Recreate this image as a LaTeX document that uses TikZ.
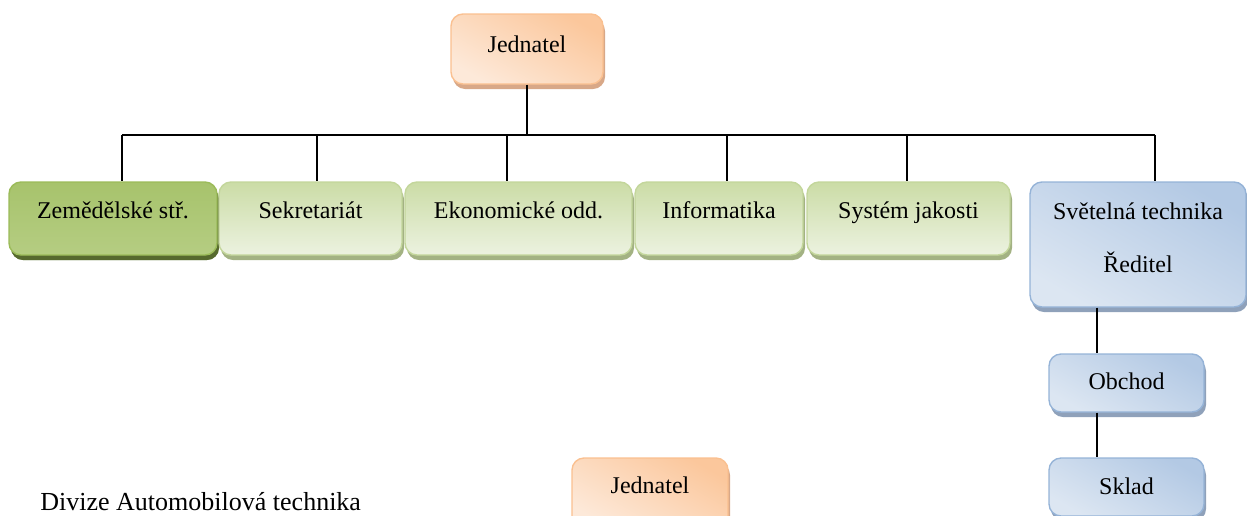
\documentclass[tikz,border=0pt]{standalone}
\usepackage{fontspec}
\setmainfont{Liberation Serif}
\usepackage{tikz}
\usetikzlibrary{shadows}
\definecolor{grntop}{HTML}{CBDCA6}
\definecolor{grnbot}{HTML}{ECF2E0}
\definecolor{grnline}{HTML}{C3D69B}
\definecolor{grnshadow}{HTML}{A3B283}
\definecolor{darktop}{HTML}{A7C36C}
\definecolor{darkmid}{HTML}{91B151}
\definecolor{darkbot}{HTML}{B5CD82}
\definecolor{darkline}{HTML}{9BBB59}
\definecolor{darkshadow}{HTML}{56692E}
\definecolor{blutop}{HTML}{B3C9E4}
\definecolor{blubot}{HTML}{DCE6F2}
\definecolor{bluline}{HTML}{95B3D7}
\definecolor{blushadow}{HTML}{8FA1BA}
\definecolor{orgtop}{HTML}{FBC79C}
\definecolor{orgbot}{HTML}{FDE9D9}
\definecolor{orgline}{HTML}{FAC090}
\definecolor{orgshadow}{HTML}{D8A888}

\begin{document}
\begin{tikzpicture}[x=0.5pt,y=-0.5pt,
  box/.style={rounded corners=6pt, draw, line width=0.7pt, inner sep=0pt,
    font=\fontsize{12}{14}\selectfont},
  green box/.style={box, draw=grnline, top color=grntop, bottom color=grnbot,
    drop shadow={shadow xshift=1pt, shadow yshift=-2.5pt, fill=grnshadow, opacity=1},
    minimum height=36.5pt, text height=18pt, text depth=18.5pt},
  dark box/.style={green box, draw=darkline, top color=darktop, middle color=darkmid, bottom color=darkbot,
    drop shadow={shadow xshift=1pt, shadow yshift=-2.5pt, fill=darkshadow, opacity=1}},
  blue box/.style={box, draw=bluline, top color=blutop, bottom color=blubot, shading angle=-30,
    drop shadow={shadow xshift=1pt, shadow yshift=-2.5pt, fill=blushadow, opacity=1}},
  orange box/.style={box, draw=orgline, top color=orgtop, bottom color=orgbot, shading angle=-30,
    drop shadow={shadow xshift=1pt, shadow yshift=-2.5pt, fill=orgshadow, opacity=1}},
  line/.style={line width=1pt}]
\useasboundingbox (0,0) rectangle (1247,515);
\clip (0,0) rectangle (1247,515);

% Points
\node[orange box, minimum width=76pt, minimum height=35pt, text height=19pt, text depth=16pt] (jed) at (527,49) {Jednatel};
\node[dark box, minimum width=104pt] (zem) at (113,218.5) {Zemědělské stř.};
\node[green box, minimum width=91.5pt] (sek) at (310.5,218.5) {Sekretariát};
\node[green box, minimum width=113.5pt] (eko) at (518.5,218.5) {Ekonomické odd.};
\node[green box, minimum width=84pt] (inf) at (719,218.5) {Informatika};
\node[green box, minimum width=101.5pt] (sys) at (908.5,218.5) {Systém jakosti};
\node[blue box, minimum width=108pt, minimum height=62.5pt, align=center,
  font=\fontsize{12}{26.5}\selectfont] (svt) at (1138,244.5) {Světelná technika\\Ředitel\rule[-6.5pt]{0pt}{0pt}};
\node[blue box, minimum width=77.5pt, minimum height=29pt, text height=17.5pt, text depth=11.5pt] (obc) at (1126.5,383) {Obchod};
\node[blue box, minimum width=77.5pt, minimum height=29pt, text height=18pt, text depth=11pt] (skl) at (1126.5,487) {Sklad};
\node[orange box, minimum width=78pt, minimum height=35pt, text height=17.5pt, text depth=17.5pt] (jed2) at (650,493) {Jednatel};
\node[anchor=base west, inner sep=0pt, font=\fontsize{13}{15}\selectfont] (div) at (40,510) {Divize Automobilová technika};

% Bus
\coordinate (bj) at (527,135);
\coordinate (b1) at (122,135);
\coordinate (b2) at (317,135);
\coordinate (b3) at (507,135);
\coordinate (b4) at (727,135);
\coordinate (b5) at (907,135);
\coordinate (b6) at (1155,135);
\coordinate (v1) at (1097,0);

%Lines
\draw[line] (jed) -- (bj);
\draw[line] (b1) -- (b6);
\draw[line] (b1) -- (b1 |- zem.north);
\draw[line] (b2) -- (b2 |- sek.north);
\draw[line] (b3) -- (b3 |- eko.north);
\draw[line] (b4) -- (b4 |- inf.north);
\draw[line] (b5) -- (b5 |- sys.north);
\draw[line] (b6) -- (b6 |- svt.north);
\draw[line] (v1 |- svt.south) -- (v1 |- obc.north);
\draw[line] (v1 |- obc.south) -- (v1 |- skl.north);
\end{tikzpicture}
\end{document}
